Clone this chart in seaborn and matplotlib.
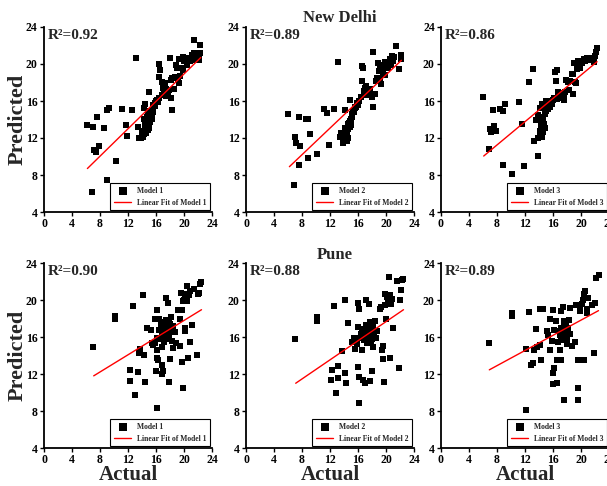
import matplotlib
matplotlib.use('Agg')
import matplotlib.pyplot as plt
import seaborn as sns
import numpy as np
import pandas as pd

# ---------------- data ----------------
cities = ["New Delhi", "Pune"]
models = ["Model 1", "Model 2", "Model 3"]

nd_m1 = [
(6.2,13.4),(7.0,13.2),(7.6,14.3),(7.2,10.7),(7.5,10.5),(7.8,11.1),(6.9,6.2),(8.6,13.1),(9.0,15.0),(9.3,15.2),
(9.0,7.5),(10.3,9.5),(11.2,15.1),(11.7,13.4),(11.9,12.2),(12.6,15.0),(13.2,20.6),(13.4,13.2),(13.6,12.0),(13.9,12.0),
(14.1,12.1),(14.3,12.4),(14.4,12.7),(14.5,13.0),(14.5,13.4),(14.6,13.8),(14.7,14.0),(14.8,13.6),(14.9,13.3),(15.0,13.9),
(15.1,13.7),(15.2,14.2),(15.3,14.4),(15.4,14.0),(15.5,14.6),(15.6,14.8),(14.2,12.8),(14.4,13.5),(14.6,12.5),(14.8,12.9),
(15.0,13.1),(14.3,14.1),(14.0,12.5),(14.3,15.2),(14.5,15.7),(15.0,17.0),(15.6,15.6),(15.8,15.8),(16.0,16.0),(16.2,16.1),
(16.3,15.9),(16.5,16.3),(15.9,15.5),(16.4,20.0),(16.6,19.3),(16.5,18.6),(16.8,18.1),(17.0,17.4),(17.2,17.6),(17.3,17.9),
(17.5,17.3),(17.1,16.8),(17.4,16.5),(16.9,16.6),(17.7,16.9),(17.9,17.2),(18.0,20.6),(18.1,18.3),(18.3,18.5),(18.2,16.3),
(18.3,15.0),(18.6,17.3),(18.7,18.6),(18.9,19.9),(19.0,19.6),(19.2,18.4),(19.3,17.9),(19.5,18.7),(19.3,20.5),(19.6,19.6),
(19.8,19.4),(20.0,20.3),(20.2,20.5),(20.4,20.1),(20.6,20.7),(20.8,20.3),(21.0,20.6),(20.5,19.9),(21.2,21.0),(21.5,21.2),
(21.3,20.4),(21.5,22.6),(21.8,20.6),(22.1,20.4),(22.3,21.2),(22.3,22.0),(22.2,20.8),(19.9,20.8),(20.3,20.6),(14.7,14.3),
(15.2,14.9),(14.9,14.6)]

nd_m2 = [
(6.0,14.6),(7.6,14.3),(7.0,12.1),(7.2,11.5),(7.7,11.1),(7.5,9.1),(6.9,6.9),(8.5,14.1),(8.9,14.1),(9.1,12.4),
(8.9,9.8),(10.2,10.3),(11.1,15.1),(11.6,14.7),(11.8,11.2),(12.5,15.1),(13.1,20.2),(13.4,12.1),(13.6,12.5),(13.8,11.5),
(14.0,12.0),(14.1,11.8),(14.3,12.2),(14.4,12.6),(14.5,13.0),(14.6,13.3),(14.7,13.6),(14.8,13.2),(14.9,13.8),(15.0,14.0),
(15.1,14.3),(15.2,14.6),(15.3,14.9),(14.4,11.7),(14.6,12.0),(14.2,13.1),(14.5,13.5),(15.0,13.4),(15.4,14.8),(15.5,15.2),
(14.2,15.0),(14.8,16.1),(15.5,15.4),(15.7,15.3),(15.9,15.8),(16.0,15.6),(16.2,16.0),(16.4,16.4),(16.5,19.8),(16.7,19.6),
(16.5,18.2),(16.9,17.1),(17.0,17.4),(17.2,17.6),(17.4,17.0),(17.6,16.8),(17.1,16.6),(17.8,16.6),(18.0,16.4),(18.1,21.3),
(18.2,15.4),(18.5,18.2),(18.7,18.5),(18.8,20.1),(19.0,19.2),(19.2,18.4),(19.3,17.8),(19.4,19.6),(19.6,19.0),(19.8,18.8),
(19.9,20.2),(20.1,20.0),(20.3,19.6),(20.5,20.5),(20.7,19.9),(21.0,20.3),(20.8,20.9),(21.2,20.8),(21.4,21.9),(21.8,19.5),
(22.2,20.5),(22.2,21.0),(19.2,19.9),(18.4,16.8),(17.7,17.3),(16.8,16.9)]

nd_m3 = [
(6.0,16.4),(6.8,10.8),(7.0,13.0),(7.2,12.7),(7.5,13.3),(7.8,12.8),(7.4,15.0),(8.4,15.1),(8.9,14.9),(9.2,15.7),
(8.9,9.1),(10.2,8.1),(11.1,15.9),(11.6,13.5),(11.8,9.0),(12.5,18.1),(13.1,19.5),(13.3,11.7),(13.8,12.0),(13.8,10.0),
(13.6,13.9),(13.9,14.5),(14.2,15.2),(14.4,15.7),(14.1,12.3),(14.2,12.8),(14.3,13.3),(14.4,13.7),(14.5,14.0),(14.6,14.3),
(14.7,13.5),(14.8,13.1),(14.9,14.6),(15.0,14.9),(15.1,15.3),(14.4,12.1),(14.6,12.6),(14.3,14.2),(15.0,16.0),(15.3,15.1),
(15.5,15.4),(15.8,15.7),(15.6,16.0),(16.0,16.1),(16.2,16.3),(16.3,19.1),(16.5,19.3),(16.4,18.2),(16.6,16.2),(16.9,16.4),
(17.1,16.6),(17.3,16.3),(17.0,16.9),(17.5,16.7),(17.7,17.0),(17.9,18.3),(18.1,18.0),(18.3,17.2),(18.7,18.9),(18.9,18.9),
(18.9,16.8),(19.1,18.0),(19.3,17.9),(19.0,20.1),(19.4,19.5),(19.7,19.9),(19.9,19.6),(20.0,20.3),(20.2,20.1),(20.4,20.5),
(20.6,20.3),(20.8,20.6),(21.0,20.4),(21.2,20.7),(21.5,20.5),(21.8,20.2),(22.0,20.9),(22.2,21.3),(22.3,21.7),(18.4,18.2),
(17.6,16.1),(16.7,17.0),(15.2,15.8),(14.8,15.6),(19.5,20.3)]

pu_m1 = [
(7.0,14.9),(10.2,18.3),(10.2,18.0),(12.7,19.3),(14.2,20.5),(12.3,11.2),(12.3,12.4),(13.0,9.7),(13.4,12.2),(13.6,14.3),
(13.7,14.7),(14.3,14.1),(14.5,11.1),(14.7,17.0),(15.3,16.8),(15.6,15.1),(15.9,15.3),(16.1,15.9),(15.9,18.0),(16.1,18.9),
(16.2,14.6),(16.2,13.7),(16.3,13.5),(16.0,12.3),(16.1,8.3),(16.8,13.0),(16.9,12.0),(17.0,12.3),(17.4,20.2),(17.7,19.7),
(17.8,11.1),(18.0,13.6),(16.5,16.8),(16.7,17.4),(16.9,16.2),(17.0,17.6),(17.1,16.9),(17.2,16.4),(17.3,17.2),(17.4,16.0),
(17.5,17.8),(17.6,16.6),(17.7,17.0),(17.8,15.8),(17.9,16.3),(18.0,17.4),(18.2,16.9),(18.3,15.6),(18.5,17.2),(18.7,16.5),
(17.2,15.5),(16.6,15.8),(18.1,18.2),(16.4,17.9),(17.8,17.6),(19.2,18.9),(19.4,18.0),(19.7,18.9),(19.4,15.0),(19.8,10.5),
(19.7,13.3),(20.1,17.0),(20.2,16.7),(19.9,19.9),(20.1,20.6),(20.3,20.2),(20.5,19.9),(20.7,20.5),(20.9,21.0),(20.5,21.5),
(20.6,13.7),(20.9,15.5),(21.1,17.3),(21.5,21.2),(21.8,14.1),(22.0,20.6),(22.2,20.8),(22.4,21.9),(22.3,21.7),(19.6,20.8),
(20.0,20.0),(18.9,15.3),(15.4,15.4),(16.8,14.9),(18.4,14.8)]

pu_m2 = [
(7.0,15.8),(10.1,18.2),(10.2,17.7),(12.5,19.3),(14.1,20.0),(12.3,12.4),(12.1,11.4),(12.9,9.9),(13.2,12.9),(13.2,11.6),
(13.7,14.5),(14.2,12.1),(14.3,11.0),(14.5,17.5),(15.1,15.5),(15.6,14.7),(15.8,15.2),(16.0,19.7),(16.1,19.0),(16.0,17.1),
(16.0,12.8),(16.1,11.7),(16.1,8.9),(16.5,14.6),(16.7,11.4),(17.0,11.0),(17.2,20.0),(17.6,19.6),(17.7,11.2),(18.0,12.3),
(16.8,16.2),(16.9,15.7),(17.0,16.8),(17.1,17.3),(17.2,16.0),(17.3,16.6),(17.4,17.0),(17.5,15.6),(17.6,16.4),(17.7,17.6),
(17.8,16.1),(17.9,16.8),(18.0,15.8),(18.1,17.1),(18.3,16.5),(18.5,15.9),(18.7,16.7),(17.3,15.3),(16.6,16.9),(17.9,15.4),
(18.4,17.7),(19.1,19.0),(19.3,19.2),(19.4,14.6),(19.6,15.0),(19.6,13.6),(19.7,11.1),(20.0,17.9),(19.9,19.5),(20.1,20.3),
(20.3,19.8),(20.5,20.5),(20.7,19.6),(20.8,20.1),(20.4,22.5),(20.5,13.7),(21.0,17.0),(21.5,22.1),(21.9,12.7),(22.0,20.0),
(22.2,21.1),(22.4,22.3),(22.3,22.2),(19.8,20.6),(16.3,15.9),(18.2,14.9),(15.4,15.9),(16.4,16.3)]

pu_m3 = [
(6.9,15.3),(10.1,18.3),(10.1,18.6),(12.1,8.1),(12.2,14.7),(12.5,18.7),(12.8,13.0),(13.2,13.2),(13.3,14.6),(13.7,14.9),
(13.6,16.9),(14.1,19.0),(14.5,19.0),(14.3,13.5),(14.2,15.1),(15.1,16.7),(15.5,17.9),(15.6,14.6),(15.8,15.6),(16.0,18.9),
(16.0,12.1),(16.1,12.6),(16.0,10.9),(16.6,11.0),(16.1,16.8),(16.4,17.7),(16.5,13.5),(17.0,14.6),(17.2,13.5),(17.2,18.8),
(17.4,19.2),(17.6,9.2),(17.0,16.2),(17.1,15.7),(17.2,17.0),(17.3,16.4),(17.4,16.9),(17.5,15.9),(17.6,17.4),(17.7,16.2),
(17.8,16.7),(17.9,17.2),(18.0,15.8),(18.1,16.5),(18.2,17.0),(18.4,16.3),(16.8,16.6),(17.5,17.7),(18.0,15.2),(18.4,19.1),
(18.7,15.0),(19.1,15.5),(19.3,19.5),(19.6,10.5),(19.6,9.2),(19.6,13.5),(19.9,19.2),(20.1,19.6),(20.3,20.0),(20.4,20.6),
(20.6,21.0),(20.4,13.5),(20.8,19.0),(21.0,20.2),(21.5,19.5),(21.8,14.3),(22.0,19.7),(22.2,22.4),(22.5,22.7),(19.8,18.8),
(16.7,15.5),(18.3,17.8),(15.3,16.2),(20.9,18.6)]

# linear-fit end points (actual, predicted)
fit_actual = [[(6.2, 22.4), (6.2, 22.2), (6.1, 22.3)],
              [(7.1, 22.5), (7.1, 22.5), (6.9, 22.5)]]
fit_pred = [[(8.7, 20.7), (8.9, 20.4), (10.05, 20.25)],
            [(11.8, 18.95), (11.0, 18.95), (12.45, 18.85)]]
r2_labels = [["0.92", "0.89", "0.86"], ["0.90", "0.88", "0.89"]]

x_ticks = [0, 4, 8, 12, 16, 20, 24]
y_ticks = [4, 8, 12, 16, 20, 24]

scatter_data = [[nd_m1, nd_m2, nd_m3], [pu_m1, pu_m2, pu_m3]]

# ---------------- styling ----------------
sns.set_theme(style='ticks')
plt.rcParams['font.family'] = ['Liberation Serif', 'DejaVu Serif']
plt.rcParams['font.weight'] = 'bold'
plt.rcParams['axes.labelweight'] = 'bold'

W, H = 607, 486
fig = plt.figure(figsize=(W / 100, H / 100), dpi=100)

lefts = [44, 246, 441]
tops = [27, 263]
aw, ah = 168, 185

for r in range(2):
    for c in range(3):
        ax = fig.add_axes([lefts[c] / W, 1 - (tops[r] + ah) / H, aw / W, ah / H])
        pts = np.array(scatter_data[r][c])
        df = pd.DataFrame({"Actual": pts[:, 0], "Predicted": pts[:, 1]})
        sns.scatterplot(data=df, x="Actual", y="Predicted", marker='s', s=14,
                        color='black', edgecolor='black', linewidth=0,
                        label=models[c], ax=ax, zorder=3)
        fdf = pd.DataFrame({"Actual": list(fit_actual[r][c]), "Predicted": list(fit_pred[r][c])})
        sns.lineplot(data=fdf, x="Actual", y="Predicted", color='red', linewidth=1.0,
                     label=f"Linear Fit of {models[c]}", ax=ax, zorder=4)
        ax.set_xlim(0, 24)
        ax.set_ylim(4, 24)
        ax.set_xticks(x_ticks)
        ax.set_yticks(y_ticks)
        ax.tick_params(direction='out', length=3, width=1, labelsize=8.5, pad=1.5, colors='black')
        for lab in ax.get_xticklabels() + ax.get_yticklabels():
            lab.set_fontweight('bold')
        for s in ['top', 'right']:
            ax.spines[s].set_visible(False)
        for s in ['left', 'bottom']:
            ax.spines[s].set_linewidth(1.3)
            ax.spines[s].set_color('black')
        ax.set_facecolor('white')
        if c == 0:
            ax.set_ylabel("Predicted", fontsize=16, fontweight='bold', labelpad=-1)
        else:
            ax.set_ylabel("")
        if r == 1:
            ax.set_xlabel("Actual", fontsize=15, fontweight='bold', labelpad=-1)
        else:
            ax.set_xlabel("")
        ax.text(0.02, 0.99, f"R\u00b2={r2_labels[r][c]}", transform=ax.transAxes,
                ha='left', va='top', fontsize=11, fontweight='bold')
        leg = ax.legend(loc='lower right', prop={'size': 5.5, 'weight': 'bold'},
                        frameon=True, fancybox=False, edgecolor='black', framealpha=1,
                        borderaxespad=0.2, handlelength=2.2, markerscale=1.5,
                        labelspacing=0.5, borderpad=0.5)
        leg.get_frame().set_linewidth(0.8)

fig.text(340 / W, 1 - 18 / H, cities[0], ha='center', va='center', fontsize=12, fontweight='bold')
fig.text(335 / W, 1 - 255 / H, cities[1], ha='center', va='center', fontsize=12, fontweight='bold')

fig.savefig("out.png", dpi=100, facecolor='white')
